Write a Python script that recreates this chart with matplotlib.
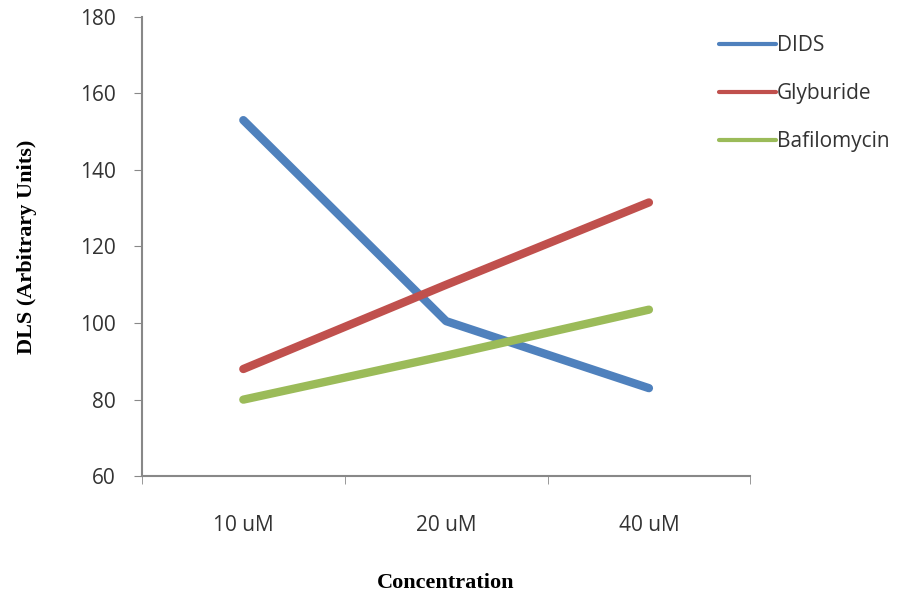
import matplotlib
matplotlib.use("Agg")
import matplotlib.pyplot as plt
import numpy as np

categories = ["10 uM", "20 uM", "40 uM"]
dids = [153, 100.5, 83]
glyburide = [88, 110, 131.5]
bafilomycin = [80, 91.5, 103.5]

series = [
    ("DIDS", dids, "#4F81BD"),
    ("Glyburide", glyburide, "#C0504D"),
    ("Bafilomycin", bafilomycin, "#9BBB59"),
]

fig = plt.figure(figsize=(9.04, 5.99), dpi=100)
ax = fig.add_axes([0.157, 0.205, 0.673, 0.767])

x = np.arange(len(categories))
for name, vals, color in series:
    ax.plot(x, vals, color=color, lw=6, label=name,
            solid_capstyle="round", solid_joinstyle="round")

ax.set_xlim(-0.5, len(categories) - 0.5)
ax.set_ylim(60, 180)
ax.set_yticks(np.arange(60, 181, 20))
ax.set_xticks(x)
ax.set_xticklabels(categories)
ax.set_xticks(np.arange(-0.5, len(categories), 1.0), minor=True)
ax.tick_params(axis="x", which="major", length=0, pad=28)
ax.tick_params(axis="x", which="minor", length=6, color="#888888", direction="out")
ax.tick_params(axis="y", length=6, color="#888888", direction="out", pad=13)
for lbl in ax.get_xticklabels() + ax.get_yticklabels():
    lbl.set_fontfamily("Open Sans")
    lbl.set_fontsize(15)
    lbl.set_color("#333333")

for side in ("top", "right"):
    ax.spines[side].set_visible(False)
for side in ("left", "bottom"):
    ax.spines[side].set_color("#888888")
    ax.spines[side].set_linewidth(1.5)

ax.set_xlabel("Concentration", family="Liberation Serif", fontweight="bold",
              fontsize=16)
ax.set_ylabel("DLS (Arbitrary Units)", family="Liberation Serif", fontweight="bold",
              fontsize=16)
ax.xaxis.set_label_coords(0.5, -0.211)
ax.yaxis.set_label_coords(-0.173, 0.5)

leg = ax.legend(loc="upper left", bbox_to_anchor=(0.775, 0.973),
                bbox_transform=fig.transFigure, frameon=False,
                handlelength=2.7, handletextpad=0.05, labelspacing=1.3,
                prop={"family": "Open Sans", "size": 15})
for h in leg.get_lines():
    h.set_linewidth(3)
for t in leg.get_texts():
    t.set_color("#333333")

fig.savefig("out.png", dpi=100)
